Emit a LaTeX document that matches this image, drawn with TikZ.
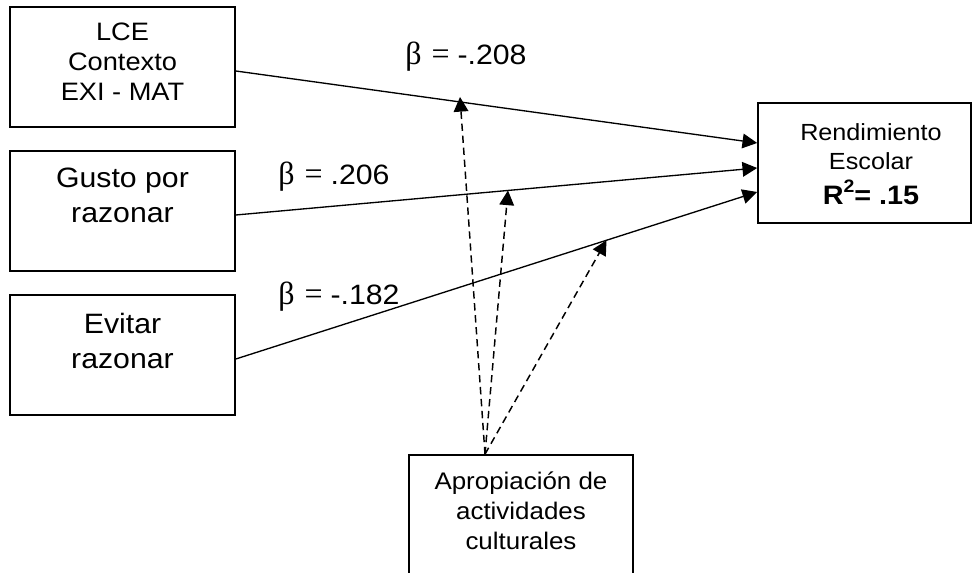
\documentclass[tikz,border=0pt]{standalone}
\usepackage{fontspec}
\setmainfont[FakeStretch=1.08]{Liberation Sans}
\newfontfamily\betafont{Liberation Serif}
\newcommand{\coefb}{{\betafont\fontsize{24}{25}\selectfont β\hspace{7.5pt}=}\hspace{6pt}}
\usetikzlibrary{arrows.meta,calc}

\begin{document}
\begin{tikzpicture}[x=0.75pt,y=-0.75pt,
  caja/.style={draw, line width=1.25pt, inner sep=0pt, minimum width=168.75pt, minimum height=90pt},
  texto/.style={inner sep=0pt, align=center, anchor=north},
  coef/.style={inner sep=0pt, anchor=base west, font=\fontsize{21}{25}\selectfont},
  flecha/.style={-{Triangle[length=11pt,width=11pt]}, line width=1pt},
  modera/.style={flecha, line width=1.1pt, dash pattern=on 5.5pt off 3.5pt}]
\useasboundingbox (0,0) rectangle (972,573);
\node[caja] (lce) at (122.5,67) {};
\node[caja] (gusto) at (122.5,211) {};
\node[caja] (evitar) at (122.5,355) {};
\node[caja, minimum width=159.75pt] (rend) at (864.5,163) {};
\node[caja, minimum width=168pt, minimum height=108.75pt] (apro) at (521,527.5) {};
\node[texto, font=\fontsize{18.9}{22.5}\selectfont] (lcetxt) at (122.5,23) {LCE\\Contexto\\EXI - MAT};
\node[texto, font=\fontsize{21}{26.25}\selectfont] (gustotxt) at (122.5,168) {Gusto por\\razonar};
\node[texto, font=\fontsize{21}{26.25}\selectfont] (evitartxt) at (122.5,313) {Evitar\\razonar};
\node[texto, font=\fontsize{17.5}{21.75}\selectfont] (rendtxt) at (871,123) {Rendimiento\\Escolar\\[5pt]{\bfseries\fontsize{20}{24}\selectfont R\raisebox{9pt}{\fontsize{13.5}{14}\selectfont 2}= .15}};
\node[texto, font=\fontsize{18}{22.5}\selectfont] (aprotxt) at (521,472) {Apropiación de\\actividades\\culturales};
\node[coef] (b1) at (405,65) {\coefb-.208};
\node[coef] (b2) at (278,185) {\coefb.206};
\node[coef] (b3) at (278,305) {\coefb-.182};
\draw[flecha] ($(lce.east)+(0,4)$) -- coordinate[pos=0.43, yshift=3.75pt] (m1) ($(rend.west)+(0,-20)$);
\draw[flecha] ($(gusto.east)+(0,4)$) -- coordinate[pos=0.522] (m2) ($(rend.west)+(0,5)$);
\draw[flecha] ($(evitar.east)+(0,4)$) -- coordinate[pos=0.711] (m3) ($(rend.west)+(0,29)$);
\coordinate (ap) at ($(apro.north)+(-36,0)$);
\draw[modera] (ap) -- (m1);
\draw[modera] (ap) -- (m2);
\draw[modera] (ap) -- (m3);
\end{tikzpicture}
\end{document}
